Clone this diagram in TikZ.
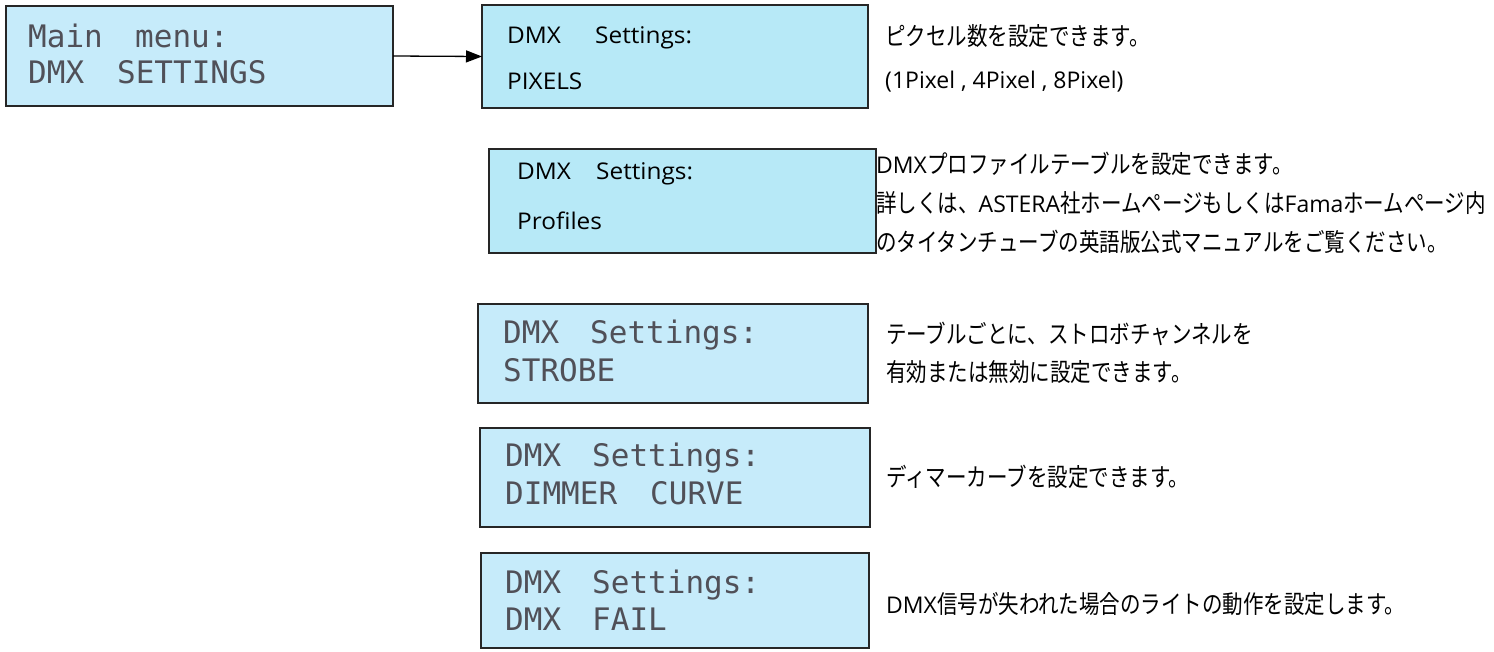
\documentclass[tikz,border=0pt]{standalone}
\usepackage{fontspec}
\setmainfont{Open Sans}
\newfontfamily\jp[FakeStretch=0.82]{Noto Sans CJK JP}
\newfontfamily\boxf[FakeStretch=1.06]{Open Sans}
\newfontfamily\lcdf{DejaVu Sans Mono}
\usetikzlibrary{arrows.meta}
\definecolor{lcdA}{RGB}{198,235,250}
\definecolor{lcdB}{RGB}{183,233,247}
\definecolor{dotc}{RGB}{80,80,88}
\newcommand\jt[1]{{\jp\fontsize{25}{25}\selectfont #1}}
\tikzset{
  panel/.style={draw=black!85, line width=2pt, inner sep=0pt, outer sep=0pt},
  lcdpanel/.style={panel, fill=lcdA},
  flatpanel/.style={panel, fill=lcdB},
  lcdtxt/.style={anchor=base west, inner sep=0pt, font=\lcdf\fontsize{31}{31}\selectfont, text=dotc},
  boxtxt/.style={anchor=base west, inner sep=0pt, font=\boxf\fontsize{23}{23}\selectfont},
  desc/.style={anchor=base west, inner sep=0pt, font=\fontsize{23}{23}\selectfont},
  link/.style={line width=1.3pt, -{Triangle[length=16pt,width=12pt]}}
}
\begin{document}
\begin{tikzpicture}[x=1pt,y=-1pt]
\useasboundingbox (0,0) rectangle (1494,651);
% panels
\node[lcdpanel, minimum width=387pt, minimum height=100pt] (main) at (199.5,56) {};
\node[flatpanel, minimum width=386pt, minimum height=103pt] (pix) at (675,56.5) {};
\node[flatpanel, minimum width=387pt, minimum height=104pt] (prof) at (682.5,201) {};
\node[lcdpanel, minimum width=390pt, minimum height=99pt] (strobe) at (673,353.5) {};
\node[lcdpanel, minimum width=390pt, minimum height=99pt] (dimmer) at (675,477.5) {};
\node[lcdpanel, minimum width=388pt, minimum height=95pt] (fail) at (675,600.5) {};
% panel texts
\node[lcdtxt] (t1a) at (28,47) {\makebox[107pt][l]{Main}menu:};
\node[lcdtxt] (t1b) at (28,83) {\makebox[89pt][l]{DMX}SETTINGS};
\node[boxtxt] (t2a) at (507,43) {\makebox[88pt][l]{DMX}Settings:};
\node[boxtxt] (t2b) at (507,89) {PIXELS};
\node[boxtxt] (t3a) at (517,179) {\makebox[79pt][l]{DMX}Settings:};
\node[boxtxt] (t3b) at (517,229) {Profiles};
\node[lcdtxt] (t4a) at (503,343) {\makebox[87pt][l]{DMX}Settings:};
\node[lcdtxt] (t4b) at (503,381) {STROBE};
\node[lcdtxt] (t5a) at (505,466) {\makebox[87pt][l]{DMX}Settings:};
\node[lcdtxt] (t5b) at (505,504) {\makebox[145pt][l]{DIMMER}CURVE};
\node[lcdtxt] (t6a) at (505,593) {\makebox[87pt][l]{DMX}Settings:};
\node[lcdtxt] (t6b) at (505,630) {\makebox[87pt][l]{DMX}FAIL};
% descriptions
\node[desc] (d1a) at (885,45) {\jt{ピクセル数を設定できます。}};
\node[desc] (d1b) at (885,88) {(1Pixel , 4Pixel , 8Pixel)};
\node[desc] (d2a) at (876,173) {DMX\jt{プロファイルテーブルを設定できます。}};
\node[desc] (d2b) at (876,212) {\jt{詳しくは、}ASTERA\jt{社ホームページもしくは}Fama\jt{ホームページ内}};
\node[desc] (d2c) at (876,251) {\jt{のタイタンチューブの英語版公式マニュアルをご覧ください。}};
\node[desc] (d3a) at (886,343) {\jt{テーブルごとに、ストロボチャンネルを}};
\node[desc] (d3b) at (886,381) {\jt{有効または無効に設定できます。}};
\node[desc] (d4) at (886,486) {\jt{ディマーカーブを設定できます。}};
\node[desc] (d5) at (886,613) {DMX\jt{信号が失われた場合のライトの動作を設定します。}};
% connector
\draw[link] (main.east) -- (pix.west);
\end{tikzpicture}
\end{document}
